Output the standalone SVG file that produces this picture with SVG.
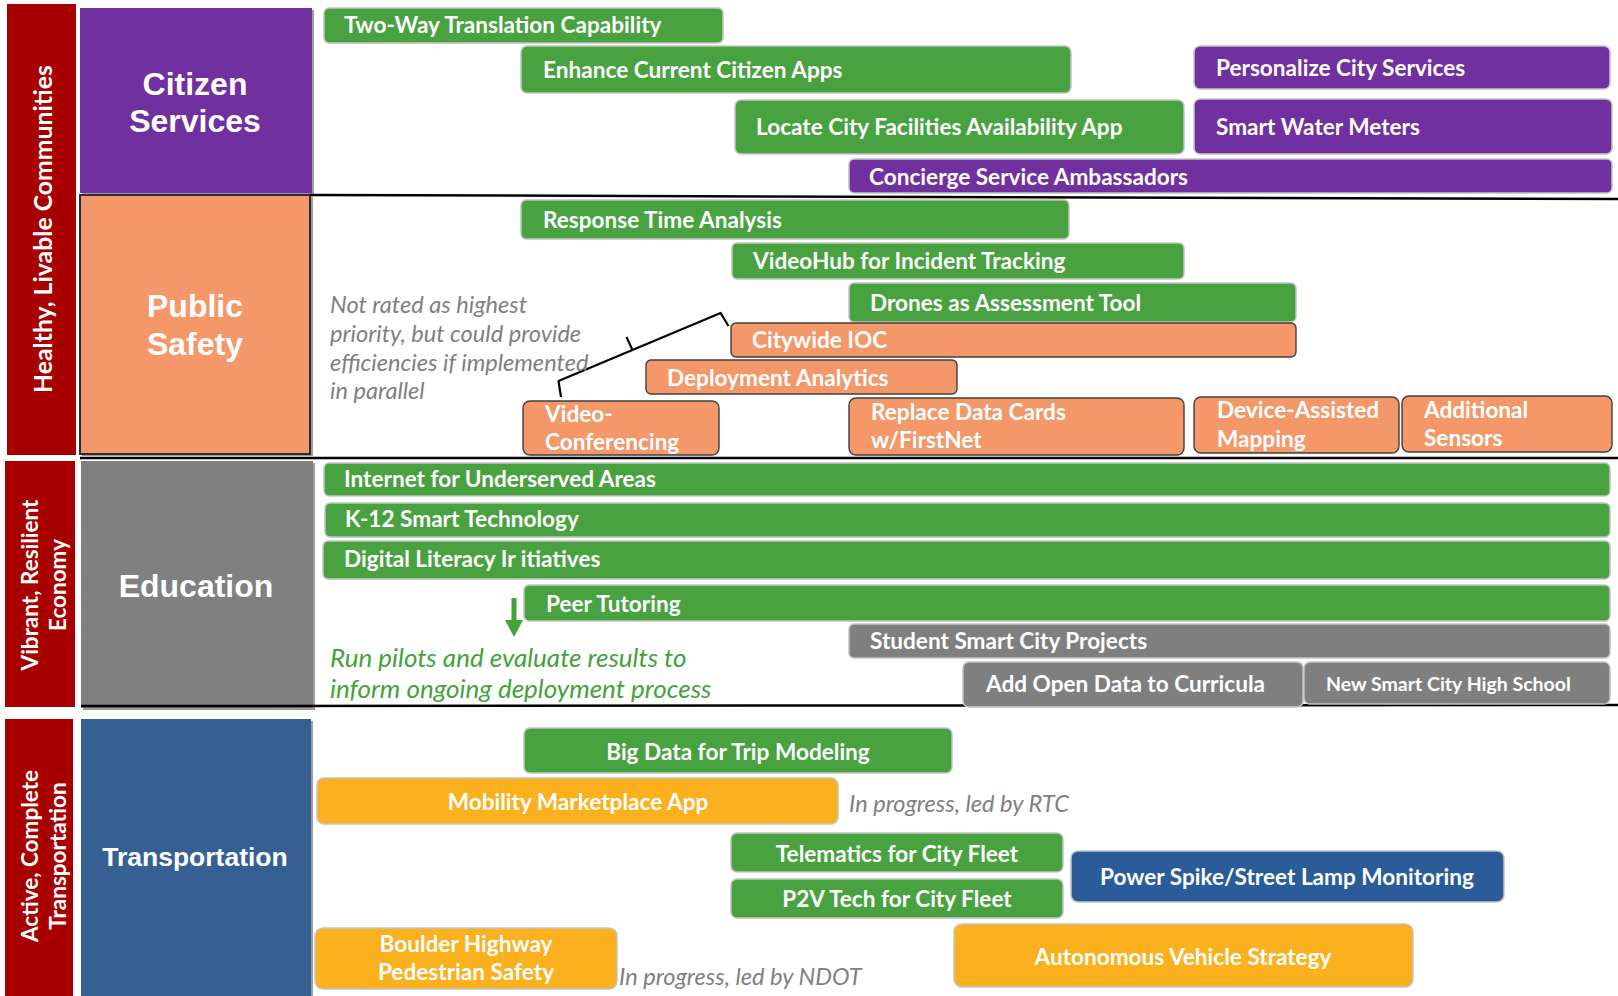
<svg xmlns="http://www.w3.org/2000/svg" width="1618" height="996" viewBox="0 0 1618 996">
<style>
.bg{fill:#ffffff}
.band{fill:#a80000}
.g{fill:#48a23f;stroke:#c4c4c4;stroke-width:1.5}
.p{fill:#7030a0;stroke:#c4c4c4;stroke-width:1.5}
.o{fill:#f4986a;stroke:#3f3f3f;stroke-width:1.4}
.gr{fill:#7f7f7f;stroke:#c4c4c4;stroke-width:1.5}
.y{fill:#fbb01d;stroke:#c4c4c4;stroke-width:1.5}
.b{fill:#2a5c9a;stroke:#c4c4c4;stroke-width:1.5}
.t{font-family:Lato,"Open Sans","Liberation Sans",sans-serif;font-weight:bold;font-size:22.6px;fill:#ffffff}
.tc{text-anchor:middle}
.h{font-family:"Liberation Sans",Arial,sans-serif;font-weight:bold;font-size:32px;fill:#ffffff;text-anchor:middle}
.v{font-family:Lato,"Open Sans","Liberation Sans",sans-serif;font-weight:bold;font-size:22.5px;fill:#ffffff;text-anchor:middle}
.note{font-family:Lato,"Open Sans","Liberation Sans",sans-serif;font-style:italic;font-size:23.6px;fill:#808080}
.gnote{font-family:Lato,"Open Sans","Liberation Sans",sans-serif;font-style:italic;font-size:26px;fill:#44a23b}
.sep{stroke:#000000;stroke-width:2.5;fill:none}
.shadow{fill:#9d9d9d}
</style>
<rect class="bg" x="0" y="0" width="1618" height="996"/>

<g id="themes">
  <g id="theme-healthy">
    <rect class="band" x="7" y="4" width="69" height="451"/>
    <text class="v" style="font-size:24.8px" transform="translate(52,229) rotate(-90)">Healthy, Livable Communities</text>
  </g>
  <g id="theme-vibrant">
    <rect class="band" x="5" y="461" width="70" height="246"/>
    <text class="v" transform="translate(38,585) rotate(-90)">Vibrant, Resilient</text>
    <text class="v" transform="translate(65.5,585) rotate(-90)">Economy</text>
  </g>
  <g id="theme-active">
    <rect class="band" x="5" y="719" width="68" height="277"/>
    <text class="v" transform="translate(37.5,856) rotate(-90)">Active, Complete</text>
    <text class="v" transform="translate(65.5,856) rotate(-90)">Transportation</text>
  </g>
</g>

<g id="categories">
  <g id="cat-citizen">
    <rect class="shadow" x="82" y="10" width="232" height="185"/>
    <rect x="80" y="8" width="232" height="185" fill="#7030a0"/>
    <text class="h" x="195" y="95">Citizen</text>
    <text class="h" x="195" y="132">Services</text>
  </g>
  <g id="cat-public-safety">
    <rect class="shadow" x="82" y="197" width="231" height="259"/>
    <rect x="80" y="195" width="230" height="259" fill="#f4986a" stroke="#2a2a3a" stroke-width="2"/>
    <text class="h" x="195" y="317">Public</text>
    <text class="h" x="195" y="355">Safety</text>
  </g>
  <g id="cat-education">
    <rect class="shadow" x="83" y="463" width="232" height="247"/>
    <rect x="81" y="461" width="232" height="247" fill="#808080"/>
    <text class="h" x="196" y="597">Education</text>
  </g>
  <g id="cat-transportation">
    <rect class="shadow" x="83" y="721" width="230" height="275"/>
    <rect x="81" y="719" width="230" height="277" fill="#366092"/>
    <text class="h" x="195" y="866" style="font-size:26.5px">Transportation</text>
  </g>
</g>

<g id="connectors">
  <path class="sep" d="M310,195 L1618,199"/>
  <path class="sep" d="M80,458 L1618,458"/>
  <path class="sep" d="M81,706 L1618,705"/>
  <path d="M561,397 L558.5,381 L720.6,313 L728.5,326 M632.5,350 L626.5,337" fill="none" stroke="#000000" stroke-width="2.2" stroke-linejoin="round"/>
  <rect x="511.5" y="598" width="5" height="23" fill="#44a23b"/>
  <polygon points="505,620 523,620 514,637" fill="#44a23b"/>
</g>

<g id="notes">
  <text class="note" x="330" y="313">Not rated as highest</text>
  <text class="note" x="330" y="342">priority, but could provide</text>
  <text class="note" x="330" y="371">efficiencies if implemented</text>
  <text class="note" x="330" y="399">in parallel</text>
  <text class="gnote" x="330" y="667">Run pilots and evaluate results to</text>
  <text class="gnote" x="330" y="698">inform ongoing deployment process</text>
  <text class="note" x="849" y="812">In progress, led by RTC</text>
  <text class="note" x="619" y="985">In progress, led by NDOT</text>
</g>

<g id="n-two-way"><rect class="g" x="324" y="8" width="399" height="35" rx="5"/><text class="t" x="344" y="33">Two-Way Translation Capability</text></g>
<g id="n-enhance"><rect class="g" x="521" y="46" width="550" height="47" rx="6"/><text class="t" x="543" y="78">Enhance Current Citizen Apps</text></g>
<g id="n-locate"><rect class="g" x="735" y="100" width="449" height="54" rx="6"/><text class="t" x="756" y="135">Locate City Facilities Availability App</text></g>
<g id="n-personalize"><rect class="p" x="1194" y="46" width="416" height="43" rx="6"/><text class="t" x="1216" y="76">Personalize City Services</text></g>
<g id="n-water"><rect class="p" x="1194" y="99" width="418" height="55" rx="6"/><text class="t" x="1216" y="135">Smart Water Meters</text></g>
<g id="n-concierge"><rect class="p" x="849" y="159" width="763" height="34" rx="5"/><text class="t" x="869" y="185">Concierge Service Ambassadors</text></g>

<g id="n-response"><rect class="g" x="521" y="200" width="548" height="39" rx="5"/><text class="t" x="543" y="228">Response Time Analysis</text></g>
<g id="n-videohub"><rect class="g" x="732" y="243" width="452" height="36" rx="5"/><text class="t" x="753" y="269">VideoHub for Incident Tracking</text></g>
<g id="n-drones"><rect class="g" x="849" y="283" width="447" height="39" rx="5"/><text class="t" x="870" y="311">Drones as Assessment Tool</text></g>
<g id="n-ioc"><rect class="o" x="731" y="323" width="565" height="34" rx="5"/><text class="t" x="752" y="348">Citywide IOC</text></g>
<g id="n-deployment"><rect class="o" x="646" y="360" width="311" height="34" rx="5"/><text class="t" x="667" y="386">Deployment Analytics</text></g>
<g id="n-video-conf"><rect class="o" x="523" y="401" width="196" height="54" rx="7"/><text class="t" x="545" y="422">Video-</text><text class="t" x="545" y="450">Conferencing</text></g>
<g id="n-replace"><rect class="o" x="849" y="398" width="335" height="57" rx="7"/><text class="t" x="871" y="420">Replace Data Cards</text><text class="t" x="871" y="448">w/FirstNet</text></g>
<g id="n-device"><rect class="o" x="1194" y="397" width="205" height="56" rx="7"/><text class="t" x="1217" y="418">Device-Assisted</text><text class="t" x="1217" y="447">Mapping</text></g>
<g id="n-sensors"><rect class="o" x="1402" y="396" width="210" height="56" rx="7"/><text class="t" x="1424" y="418">Additional</text><text class="t" x="1424" y="446">Sensors</text></g>

<g id="n-internet"><rect class="g" x="324" y="463" width="1286" height="33" rx="5"/><text class="t" x="344" y="487">Internet for Underserved Areas</text></g>
<g id="n-k12"><rect class="g" x="325" y="503" width="1285" height="34" rx="5"/><text class="t" x="345" y="527">K-12 Smart Technology</text></g>
<g id="n-literacy"><rect class="g" x="323" y="541" width="1287" height="38" rx="5"/><text class="t" x="344" y="567">Digital Literacy Ir itiatives</text></g>
<g id="n-peer"><rect class="g" x="524" y="585" width="1086" height="36" rx="5"/><text class="t" x="546" y="612">Peer Tutoring</text></g>
<g id="n-student"><rect class="gr" x="849" y="624" width="761" height="34" rx="5"/><text class="t" x="870" y="649">Student Smart City Projects</text></g>
<g id="n-open-data"><rect class="gr" x="963" y="662" width="340" height="45" rx="6"/><text class="t" x="986" y="692">Add Open Data to Curricula</text></g>
<g id="n-high-school"><rect class="gr" x="1304" y="662" width="306" height="42" rx="6"/><text class="t" x="1326" y="691" style="font-size:19.5px">New Smart City High School</text></g>

<g id="n-bigdata"><rect class="g" x="524" y="728" width="428" height="45" rx="6"/><text class="t tc" x="738" y="760">Big Data for Trip Modeling</text></g>
<g id="n-mobility"><rect class="y" x="317" y="778" width="521" height="46" rx="7"/><text class="t tc" x="578" y="810">Mobility Marketplace App</text></g>
<g id="n-telematics"><rect class="g" x="731" y="833" width="332" height="39" rx="6"/><text class="t tc" x="897" y="862">Telematics for City Fleet</text></g>
<g id="n-p2v"><rect class="g" x="731" y="879" width="332" height="39" rx="6"/><text class="t tc" x="897" y="907">P2V Tech for City Fleet</text></g>
<g id="n-power"><rect class="b" x="1071" y="851" width="433" height="51" rx="7"/><text class="t tc" x="1287" y="885">Power Spike/Street Lamp Monitoring</text></g>
<g id="n-autonomous"><rect class="y" x="954" y="924" width="459" height="63" rx="8"/><text class="t tc" x="1183" y="965">Autonomous Vehicle Strategy</text></g>
<g id="n-boulder"><rect class="y" x="315" y="928" width="302" height="61" rx="8"/><text class="t tc" x="466" y="952">Boulder Highway</text><text class="t tc" x="466" y="980">Pedestrian Safety</text></g>
</svg>
